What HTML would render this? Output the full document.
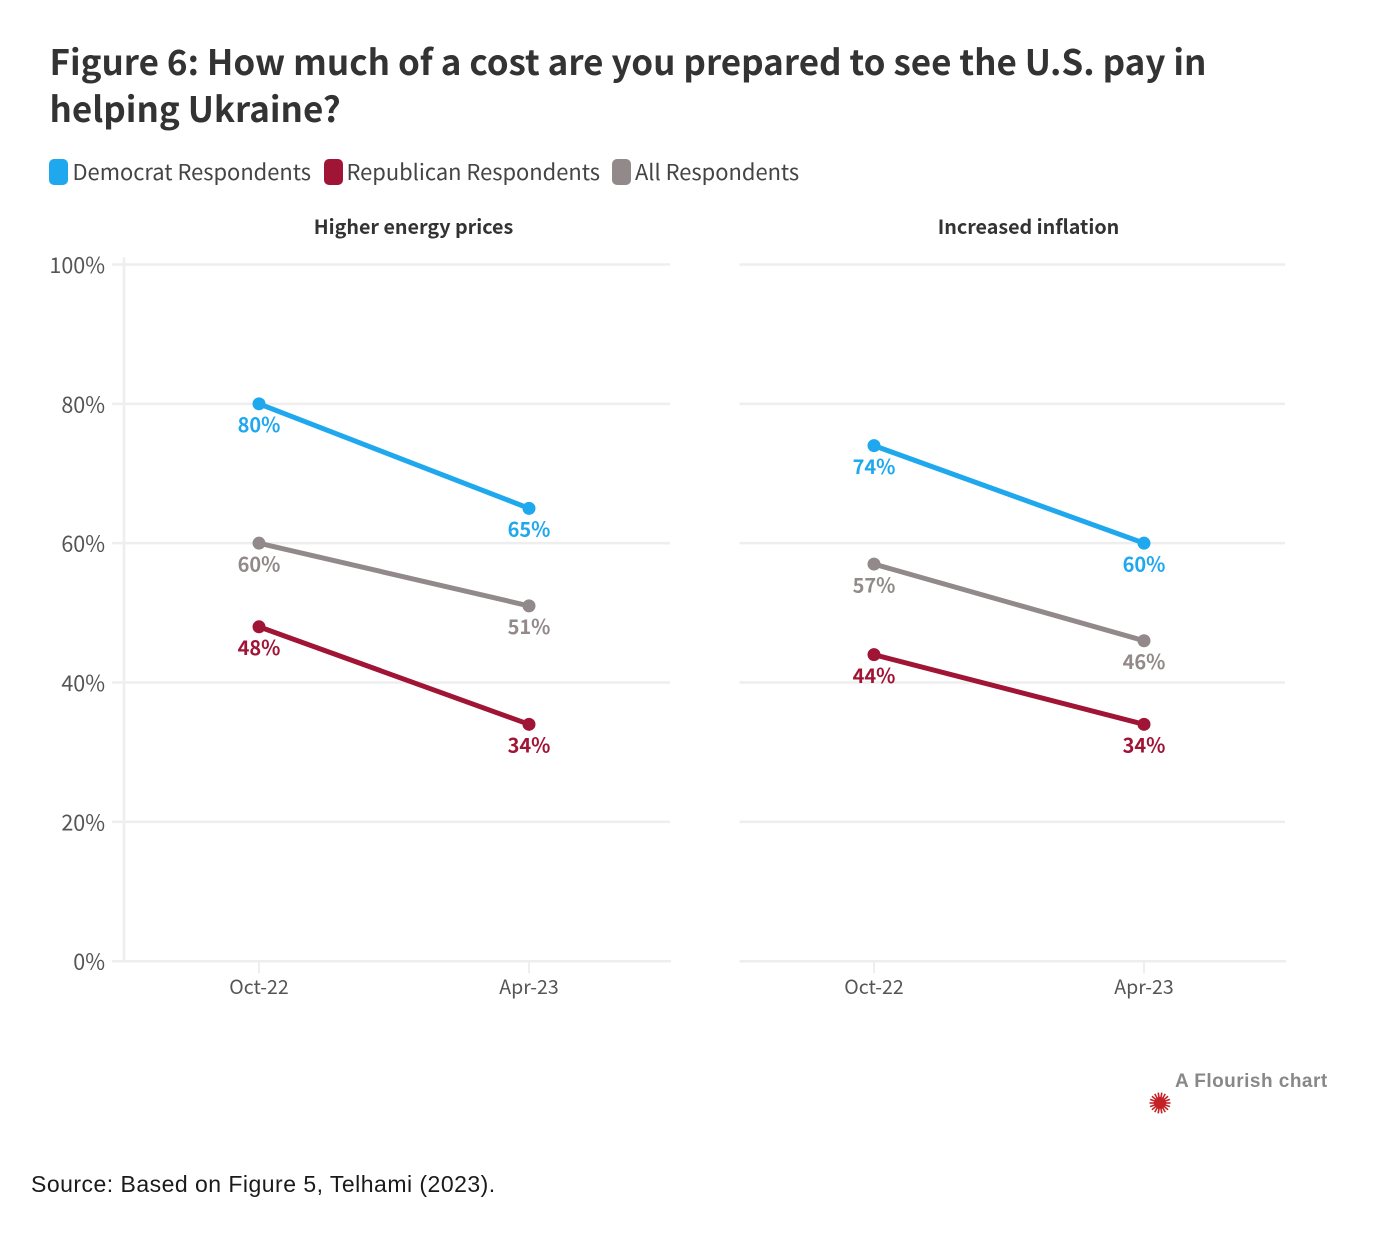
<!DOCTYPE html>
<html lang="en">
<head>
<meta charset="utf-8">
<title>Figure 6</title>
<style>
  html, body { margin: 0; padding: 0; background: #fff; }
  #root { position: relative; width: 1386px; height: 1238px; overflow: hidden; background: #fff; }
  svg { position: absolute; left: 0; top: 0; }
  text { font-family: "Noto Sans CJK SC", "Liberation Sans", sans-serif; }
</style>
</head>
<body>
<div id="root">
<svg id="chart" width="1386" height="1238" viewBox="0 0 1386 1238" xmlns="http://www.w3.org/2000/svg">
  <text x="49.5" y="75" font-size="35" font-weight="700" fill="#333333">Figure 6: How much of a cost are you prepared to see the U.S. pay in</text>
  <text x="49.5" y="122" font-size="35" font-weight="700" fill="#333333">helping Ukraine?</text>
  <g>
    <rect x="49" y="159" width="19" height="26" rx="5" fill="#1fa8ee"/>
    <text x="72.5" y="180" font-size="21.9" fill="#444444">Democrat Respondents</text>
    <rect x="324" y="159" width="19" height="26" rx="5" fill="#a01535"/>
    <text x="346.5" y="180" font-size="21.9" fill="#444444">Republican Respondents</text>
    <rect x="612" y="159" width="19" height="26" rx="5" fill="#928a8a"/>
    <text x="635" y="180" font-size="21.9" fill="#444444">All Respondents</text>
  </g>
  <g id="panels"></g>
  <text x="1175" y="1087" font-size="19" font-weight="700" letter-spacing="0.48" fill="#888888" style="font-family:'Liberation Sans',sans-serif">A Flourish chart</text>
  <g id="flourish-mark"></g>
  <text x="31" y="1192" font-size="23" letter-spacing="0.48" fill="#1a1a1a" style="font-family:'Liberation Sans',sans-serif">Source: Based on Figure 5, Telhami (2023).</text>
</svg>
</div>
<script>
const panelTitles = ["Higher energy prices", "Increased inflation"];
const periods = ["Oct-22", "Apr-23"];
const yTicks = [0, 20, 40, 60, 80, 100];
const democratValues = [[80, 65], [74, 60]];
const allValues = [[60, 51], [57, 46]];
const republicanValues = [[48, 34], [44, 34]];

const SVG_NS = "http://www.w3.org/2000/svg";
const panelsGroup = document.getElementById("panels");
const seriesStyles = [
  { key: "democrat", color: "#1fa8ee", values: democratValues },
  { key: "all", color: "#928a8a", values: allValues },
  { key: "republican", color: "#a01535", values: republicanValues }
];
const plotTop = 264.5, plotBottom = 961.2;
const panelFrames = [
  { titleX: 413.5, gridRight: 670, axisRight: 671, axisLeft: 112, firstX: 259, lastX: 529 },
  { titleX: 1028.5, gridRight: 1285, axisRight: 1286, axisLeft: 739.5, firstX: 874, lastX: 1144 }
];

function yScale(v) {
  return plotBottom - (v / 100) * (plotBottom - plotTop);
}
function xScale(frame, i) {
  return frame.firstX + (i / (periods.length - 1)) * (frame.lastX - frame.firstX);
}
function make(tag, attrs, parent, text) {
  const el = document.createElementNS(SVG_NS, tag);
  for (const k in attrs) el.setAttribute(k, attrs[k]);
  if (text !== undefined) el.textContent = text;
  parent.appendChild(el);
  return el;
}

panelFrames.forEach(function (frame, p) {
  const g = make("g", {}, panelsGroup);
  
  

  const title = make("text", { x: frame.titleX, y: 234, "font-size": 19.7, "font-weight": 700, fill: "#333333", "text-anchor": "middle" }, g, panelTitles[p]);
  
  

  yTicks.forEach(function (t) {
    const y = yScale(t);
    const line = make("line", { x1: frame.axisLeft, x2: t === 0 ? frame.axisRight : frame.gridRight, y1: y, y2: y, stroke: "#eeeeee", "stroke-width": 2.5 }, g);
    
    
    if (p === 0) {
      const lab = make("text", { x: 105, y: y + 8.5, "font-size": 21.5, fill: "#555555", "text-anchor": "end" }, g, t + "%");
      
      
    }
  });

  if (p === 0) {
    const axis = make("line", { x1: 124, x2: 124, y1: plotTop - 7, y2: plotBottom, stroke: "#eeeeee", "stroke-width": 2.5 }, g);
    
    
  }

  periods.forEach(function (label, i) {
    const x = xScale(frame, i);
    const tick = make("line", { x1: x, x2: x, y1: plotBottom, y2: plotBottom + 12, stroke: "#eeeeee", "stroke-width": 2 }, g);
    
    
    const lab = make("text", { x: x, y: 994, "font-size": 19.5, fill: "#555555", "text-anchor": "middle" }, g, label);
    
    
  });

  seriesStyles.forEach(function (s) {
    const vals = s.values[p];
    const pts = vals.map(function (v, i) { return xScale(frame, i) + "," + yScale(v); }).join(" ");
    const line = make("polyline", { points: pts, fill: "none", stroke: s.color, "stroke-width": 5 }, g);
    
    
    vals.forEach(function (v, i) {
      const x = xScale(frame, i), y = yScale(v);
      const dot = make("circle", { cx: x, cy: y, r: 6.5, fill: s.color }, g);
      
      
      const lab = make("text", { x: x, y: y + 28.2, "font-size": 20, "font-weight": 700, fill: s.color, "text-anchor": "middle" }, g, v + "%");
      
      
    });
  });
});

const mark = document.getElementById("flourish-mark");
for (let a = 0; a < 18; a++) {
  const ang = a * Math.PI / 9;
  make("line", { x1: 1160, y1: 1103, x2: 1160 + 10.5 * Math.cos(ang), y2: 1103 + 10.5 * Math.sin(ang), stroke: "#c42127", "stroke-width": 1.6 }, mark);
}
make("circle", { cx: 1160, cy: 1103, r: 6, fill: "#c42127" }, mark);
</script>
</body>
</html>
